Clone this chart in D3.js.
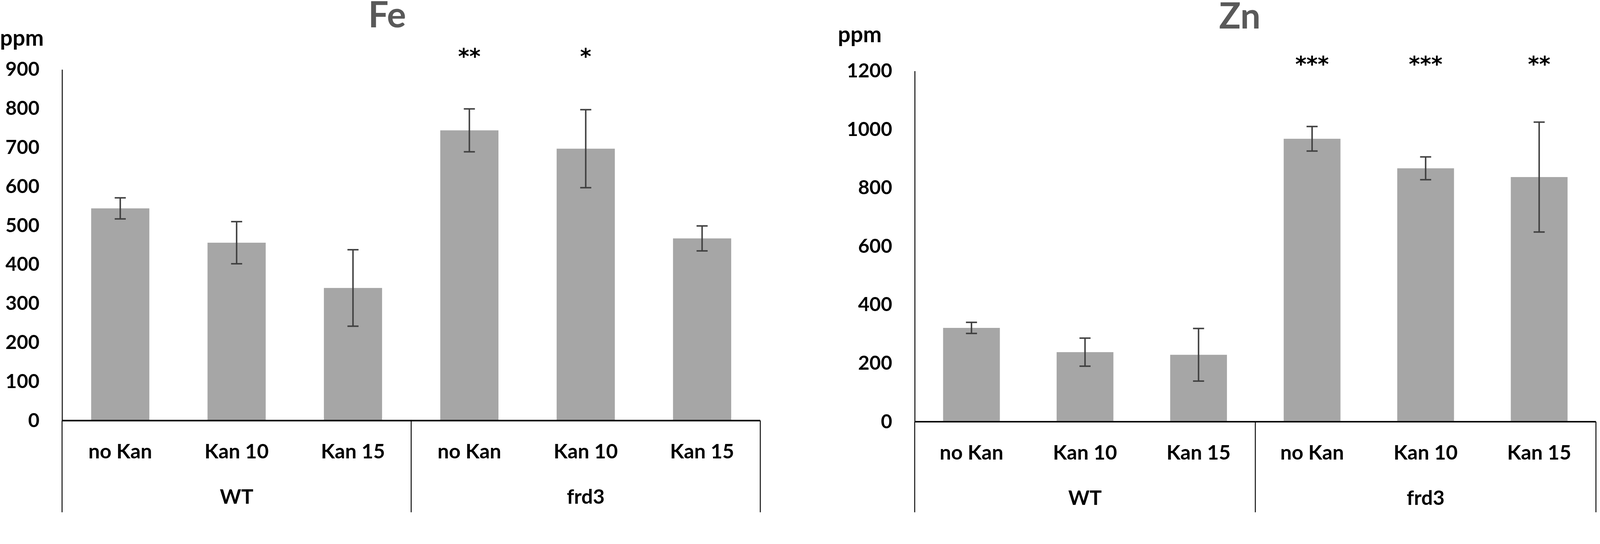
<!DOCTYPE html>
<html>
<head>
<meta charset="utf-8">
<script src="https://cdn.jsdelivr.net/npm/d3@7"></script>
<style>
  html, body { margin: 0; padding: 0; width: 100%; height: 100%; overflow: hidden; background: #fff; }
  svg { display: block; }
  text { font-family: Lato, "Open Sans", sans-serif; font-weight: bold; }
</style>
</head>
<body>
<svg id="chart"></svg>
<script>
const categories = ["no Kan", "Kan 10", "Kan 15", "no Kan", "Kan 10", "Kan 15"];
const groups = ["WT", "frd3"];

const feValues = [544, 456, 340, 744, 697, 467];
const feErrors = [27, 54, 98, 55, 100, 32];
const feStars = ["", "", "", "**", "*", ""];
const feTicks = [0, 100, 200, 300, 400, 500, 600, 700, 800, 900];

const znValues = [321, 238, 229, 968, 867, 837];
const znErrors = [19, 48, 90, 42, 39, 188];
const znStars = ["", "", "", "***", "***", "**"];
const znTicks = [0, 200, 400, 600, 800, 1000, 1200];

const W = 4331, H = 1392;
const svg = d3.select("#chart")
    .attr("viewBox", `0 0 ${W} ${H}`)
    .attr("preserveAspectRatio", "xMinYMin meet")
    .attr("width", "100%")
    .attr("height", "100%");

const panels = [
    { title: "Fe", values: feValues, errors: feErrors, stars: feStars, ticks: feTicks,
      left: 168, right: 2058, bottom: 1138, top: 188, titleX: 1048, titleY: 74,
      ppmX: 0, ppmY: 124, starY: 172 },
    { title: "Zn", values: znValues, errors: znErrors, stars: znStars, ticks: znTicks,
      left: 2476, right: 4320, bottom: 1141, top: 192, titleX: 3356, titleY: 77,
      ppmX: 2268, ppmY: 114, starY: 194 }
];

const lineBottom = 1386;

panels.forEach(p => {
    const g = svg.append("g");
    const idx = d3.range(categories.length);

    const x = d3.scaleBand()
        .domain(idx)
        .range([p.left, p.right])
        .paddingInner(0.5)
        .paddingOuter(0.25);

    const gx = d3.scaleBand()
        .domain(groups)
        .range([p.left, p.right]);

    const y = d3.scaleLinear()
        .domain([0, d3.max(p.ticks)])
        .range([p.bottom, p.top]);

    // title
    g.append("text")
        .attr("x", p.titleX)
        .attr("y", p.titleY)
        .attr("text-anchor", "middle")
        .style("font-size", "97px")
        .style("fill", "#595959")
        .text(p.title);

    g.append("text")
        .attr("x", p.ppmX)
        .attr("y", p.ppmY)
        .style("font-size", "60px")
        .style("fill", "#000")
        .text("ppm");

    // bars
    g.selectAll(".bar")
        .data(idx)
        .enter()
        .append("rect")
        .attr("class", "bar")
        .attr("x", i => x(i))
        .attr("width", x.bandwidth())
        .attr("y", i => y(p.values[i]))
        .attr("height", i => y(0) - y(p.values[i]))
        .style("fill", "#a6a6a6");

    // error bars
    const cap = 15;
    const eb = g.selectAll(".err")
        .data(idx)
        .enter()
        .append("g")
        .attr("class", "err")
        .style("stroke", "#404040")
        .style("stroke-width", 4);

    eb.append("line")
        .attr("x1", i => x(i) + x.bandwidth() / 2)
        .attr("x2", i => x(i) + x.bandwidth() / 2)
        .attr("y1", i => y(p.values[i] + p.errors[i]))
        .attr("y2", i => y(p.values[i] - p.errors[i]));

    eb.append("line")
        .attr("x1", i => x(i) + x.bandwidth() / 2 - cap)
        .attr("x2", i => x(i) + x.bandwidth() / 2 + cap)
        .attr("y1", i => y(p.values[i] + p.errors[i]))
        .attr("y2", i => y(p.values[i] + p.errors[i]));

    eb.append("line")
        .attr("x1", i => x(i) + x.bandwidth() / 2 - cap)
        .attr("x2", i => x(i) + x.bandwidth() / 2 + cap)
        .attr("y1", i => y(p.values[i] - p.errors[i]))
        .attr("y2", i => y(p.values[i] - p.errors[i]));

    // significance stars
    g.selectAll(".star")
        .data(idx.filter(i => p.stars[i]))
        .enter()
        .append("text")
        .attr("class", "star")
        .attr("x", i => x(i) + x.bandwidth() / 2)
        .attr("y", p.starY)
        .attr("text-anchor", "middle")
        .style("font-family", "'DejaVu Sans', sans-serif")
        .style("font-size", "58px")
        .style("fill", "#000")
        .text(i => p.stars[i]);

    // y axis
    const yAxis = d3.axisLeft(y)
        .tickValues(p.ticks)
        .tickFormat(d3.format("d"))
        .tickSize(0)
        .tickPadding(61);

    const ya = g.append("g")
        .attr("transform", `translate(${p.left},0)`)
        .call(yAxis);
    ya.select(".domain").style("stroke", "#000").style("stroke-width", 2.5);
    ya.selectAll("text")
        .style("font-size", "53px")
        .style("font-family", "Lato, sans-serif")
        .style("font-weight", "bold")
        .style("fill", "#000");

    // x axis line
    g.append("line")
        .attr("x1", p.left)
        .attr("x2", p.right)
        .attr("y1", y(0))
        .attr("y2", y(0))
        .style("stroke", "#000")
        .style("stroke-width", 4);

    // group boundary lines
    const bounds = groups.map(d => gx(d)).concat([p.right]);
    g.selectAll(".bound")
        .data(bounds)
        .enter()
        .append("line")
        .attr("x1", d => d)
        .attr("x2", d => d)
        .attr("y1", y(0))
        .attr("y2", lineBottom)
        .style("stroke", "#000")
        .style("stroke-width", 2.5);

    // category labels
    g.selectAll(".cat")
        .data(idx)
        .enter()
        .append("text")
        .attr("x", i => x(i) + x.bandwidth() / 2)
        .attr("y", y(0) + 102)
        .attr("text-anchor", "middle")
        .style("font-size", "55px")
        .style("fill", "#000")
        .text(i => categories[i]);

    // group labels
    g.selectAll(".grp")
        .data(groups)
        .enter()
        .append("text")
        .attr("x", d => gx(d) + gx.bandwidth() / 2)
        .attr("y", y(0) + 225)
        .attr("text-anchor", "middle")
        .style("font-size", "55px")
        .style("fill", "#000")
        .text(d => d);
});
</script>
</body>
</html>
